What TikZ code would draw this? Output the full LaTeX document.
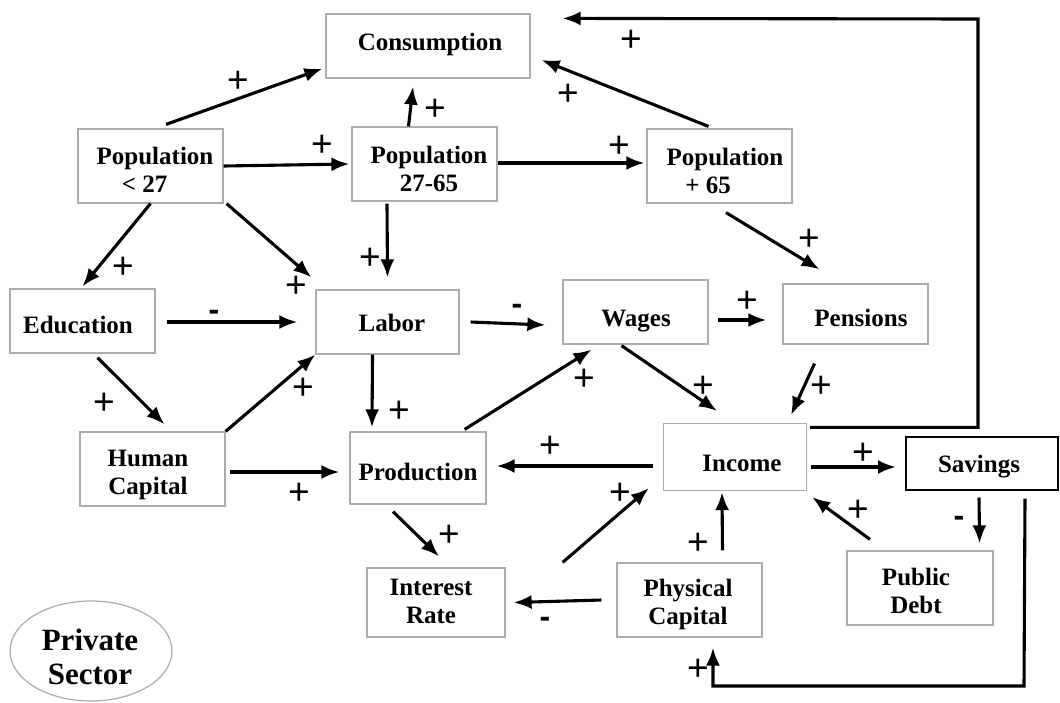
\documentclass[tikz,border=0pt]{standalone}
\usepackage{fontspec}
\setmainfont{Liberation Serif}
\newfontfamily\lblfont{Liberation Sans}
\usetikzlibrary{arrows.meta,calc,shapes.geometric}
\begin{document}
\begin{tikzpicture}[x=1pt,y=-1pt,
  box/.style={draw=gray!65,line width=1.2pt,fill=white,inner sep=0pt},
  txt/.style={font=\fontsize{25}{28}\selectfont\bfseries,align=center,inner sep=0pt,anchor=base},
  arr/.style={line width=3.1pt,-{Latex[length=18pt,width=14pt]}},
  sgn/.style={font=\fontsize{37}{37}\selectfont\lblfont,inner sep=0pt},
  neg/.style={font=\fontsize{32}{32}\selectfont\lblfont\bfseries,inner sep=0pt},
]
\useasboundingbox[fill=white] (0,0) rectangle (1060,702);

% boxes
\node[box,minimum width=204pt,minimum height=64pt] (cons) at (428,46) {};
\node[box,minimum width=145pt,minimum height=74pt] (p27) at (150.5,166) {};
\node[box,minimum width=145pt,minimum height=74pt] (p2765) at (424.5,164) {};
\node[box,minimum width=145pt,minimum height=74pt] (p65) at (719.5,166) {};
\node[box,minimum width=145pt,minimum height=64pt] (edu) at (82.5,321) {};
\node[box,minimum width=143pt,minimum height=64pt] (labor) at (387.5,322) {};
\node[box,minimum width=145pt,minimum height=64pt] (wages) at (635.5,312) {};
\node[box,minimum width=145pt,minimum height=60pt] (pens) at (855.5,314) {};
\node[box,minimum width=145pt,minimum height=74pt] (hc) at (152.5,469) {};
\node[box,minimum width=136pt,minimum height=72pt] (prod) at (418,468) {};
\node[box,minimum width=143pt,minimum height=67pt] (inc) at (735,457) {};
\node[box,draw=black,line width=2pt,minimum width=152pt,minimum height=53pt] (sav) at (982,463) {};
\node[box,minimum width=138pt,minimum height=69pt] (ir) at (436,602.5) {};
\node[box,minimum width=145pt,minimum height=74pt] (pc) at (689.5,600) {};
\node[box,minimum width=146pt,minimum height=74pt] (pd) at (920,588) {};
\node[draw=gray!65,line width=1.2pt,ellipse,minimum width=162pt,minimum height=100pt,inner sep=0pt] (ps) at (91,651) {};

% texts
\node[txt] (cons-t) at (430,50) {Consumption};
\node[txt] (p27-t) at (155,192) {Population\\\hspace*{-21pt}< 27};
\node[txt] (p2765-t) at (429,191) {Population\\27-65};
\node[txt] (p65-t) at (725,193) {Population\\\hspace*{-34pt}+ 65};
\node[txt] (edu-t) at (78,333) {Education};
\node[txt] (labor-t) at (392,331) {Labor};
\node[txt] (wages-t) at (636,326) {Wages};
\node[txt] (pens-t) at (861,326) {Pensions};
\node[txt] (hc-t) at (148,494) {Human\\Capital};
\node[txt] (prod-t) at (418,480) {Production};
\node[txt] (inc-t) at (742,471) {Income};
\node[txt] (sav-t) at (979,472) {Savings};
\node[txt] (ir-t) at (431,623) {Interest\\Rate};
\node[txt] (pc-t) at (688,624) {Physical\\Capital};
\node[txt] (pd-t) at (916,613) {Public\\Debt};
\node[txt,font=\fontsize{31}{34}\selectfont\bfseries] (ps-t) at (90,684) {Private\\Sector};

% connectors
\draw[arr] ($(p27.north)+(15.5,-4)$) -- ($(cons.south west)+(-3,-10)$);
\draw[arr] (p27.east) -- ($(p2765.west)+(-2,0)$);
\draw[arr] ($(p2765.north)+(-16,0)$) -- ($(cons.south)+(-15,8)$);
\draw[arr] ($(p2765.east)+(0,-1)$) -- ($(p65.west)+(-2,-3)$);
\draw[arr] ($(p65.north)+(-11,-2)$) -- ($(cons.east)+(11,14)$);
\draw[arr,line join=miter] ($(inc.north east)+(3,4.5)$) -| (978,19) -- ($(cons.north east)+(32,5)$);
\draw[arr] (p27.south) -- ($(edu.north)+(0,-2)$);
\draw[arr] ($(p27.south east)+(3,0)$) -- ($(labor.north west)+(-4,-12)$);
\draw[arr] ($(p2765.south)+(-37.5,2)$) -- ($(labor.north)+(0,-12)$);
\draw[arr] ($(p65.south)+(6.5,9)$) -- ($(pens.north)+(-36,-14)$);
\draw[arr] ($(edu.east)+(11,1)$) -- ($(labor.west)+(-18,0)$);
\draw[arr] ($(labor.east)+(11,0)$) -- ($(wages.west)+(-17,13)$);
\draw[arr] ($(wages.east)+(9,8)$) -- ($(pens.west)+(-16,6)$);
\draw[arr] ($(edu.south)+(15,4)$) -- ($(hc.north)+(12,-7)$);
\draw[arr] (hc.north east) -- (labor.south west);
\draw[arr] ($(labor.south)+(-15,0)$) -- ($(prod.north)+(-46,-4)$);
\draw[arr] ($(prod.north east)+(-22,-2)$) -- ($(wages.south)+(-44,5)$);
\draw[arr] ($(wages.south)+(-14,1)$) -- ($(inc.north)+(-18,-12)$);
\draw[arr] ($(pens.south)+(-41,19)$) -- ($(inc.north east)+(-16,-8)$);
\draw[arr] ($(hc.east)+(4,3)$) -- ($(prod.west)+(-10,4)$);
\draw[arr] ($(inc.west)+(-10,9)$) -- ($(prod.east)+(10,-2)$);
\draw[arr] ($(inc.east)+(4,10)$) -- ($(sav.west)+(-9,4)$);
\draw[arr] ($(prod.south)+(-25,7)$) -- ($(ir.north)+(3,-11)$);
\draw[arr] ($(pc.west)+(-15,0)$) -- ($(ir.east)+(8,0)$);
\draw[arr] ($(ir.north east)+(57,-5)$) -- ($(inc.south west)+(-14,-3)$);
\draw[arr] ($(pc.north)+(33,-12)$) -- ($(inc.south)+(-13,1)$);
\draw[arr] ($(pd.north)+(-50,-11)$) -- ($(inc.south east)+(5,6)$);
\draw[arr] ($(sav.south)+(-3,7)$) -- ($(pd.north east)+(-14,-7)$);
\draw[arr,line join=miter] ($(sav.south east)+(-34,8)$) -- (1024,686) -| ($(pc.south)+(23.5,10)$);

% signs
\node[sgn] (s1) at (238,82) {+};
\node[sgn] (s2) at (322,146) {+};
\node[sgn] (s3) at (435,110) {+};
\node[sgn] (s4) at (619,147) {+};
\node[sgn] (s5) at (568,95) {+};
\node[sgn] (s6) at (631,41) {+};
\node[sgn] (s7) at (123,268) {+};
\node[sgn] (s8) at (296,287) {+};
\node[sgn] (s9) at (370,259) {+};
\node[sgn] (s10) at (809,240) {+};
\node[neg] (s11) at (214,315) {-};
\node[neg] (s12) at (517,309) {-};
\node[sgn] (s13) at (747,302) {+};
\node[sgn] (s14) at (104,404) {+};
\node[sgn] (s15) at (303,389) {+};
\node[sgn] (s16) at (399,412) {+};
\node[sgn] (s17) at (584,380) {+};
\node[sgn] (s18) at (703,387) {+};
\node[sgn] (s19) at (821,387) {+};
\node[sgn] (s20) at (299,494) {+};
\node[sgn] (s21) at (550,447) {+};
\node[sgn] (s22) at (863,454) {+};
\node[sgn] (s23) at (449,536) {+};
\node[neg] (s24) at (545,622) {-};
\node[sgn] (s25) at (620,494) {+};
\node[sgn] (s26) at (698,544) {+};
\node[sgn] (s27) at (858,511) {+};
\node[neg] (s28) at (959,521) {-};
\node[sgn] (s29) at (698,670) {+};
\end{tikzpicture}
\end{document}
